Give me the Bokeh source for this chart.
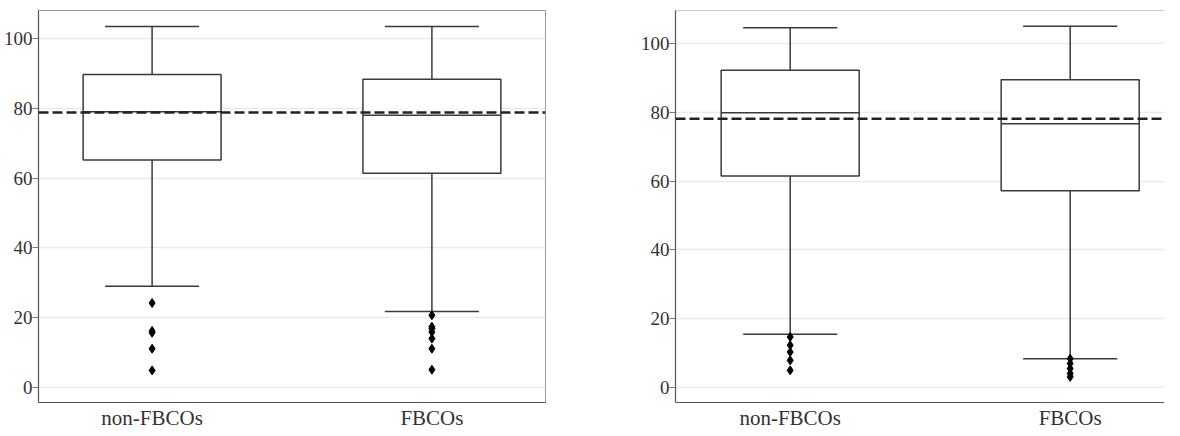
from bokeh.plotting import figure
from bokeh.models import FixedTicker, Span
from bokeh.layouts import row
from bokeh.embed import file_html
from bokeh.resources import INLINE

categories = ["non-FBCOs", "FBCOs"]
y_ticks = [0, 20, 40, 60, 80, 100]

# Left panel
left_hi = [103.4, 103.4]
left_q3 = [89.7, 88.3]
left_median = [79.0, 78.0]
left_q1 = [65.2, 61.4]
left_lo = [29.0, 21.8]
left_out_non = [24.2, 16.2, 15.7, 11.1, 4.9]
left_out_fb = [20.7, 17.4, 16.9, 15.9, 14.0, 11.1, 5.1]
left_ref = 78.8

# Right panel
right_hi = [104.6, 105.0]
right_q3 = [92.2, 89.5]
right_median = [79.9, 76.7]
right_q1 = [61.5, 57.2]
right_lo = [15.5, 8.4]
right_out_non = [14.7, 12.3, 10.3, 7.9, 5.0]
right_out_fb = [8.4, 7.0, 5.5, 4.1, 3.1]
right_ref = 78.1

FONT = "Liberation Serif, Times New Roman, serif"
TXT = "#333333"
LINE = "#3a3a3a"
BOX_W = 0.493
CAP_W = 0.336


def make_panel(width, height, xr, yr, hi, q3, med, q1, lo, outs, ref,
               border_left, border_right, outline):
    p = figure(width=width, height=height, x_range=xr, y_range=yr,
               output_backend="svg", toolbar_location=None,
               min_border_left=border_left, min_border_right=border_right,
               min_border_top=10, min_border_bottom=0)
    p.background_fill_color = "white"
    p.border_fill_color = "white"
    if outline:
        p.outline_line_color = "#9a9a9a"
        p.outline_line_width = 1
    else:
        p.outline_line_color = None
        p.add_layout(Span(location=yr[1], dimension="width",
                          line_color="#9a9a9a", line_width=1))
    xs = [i + 1 for i in range(len(categories))]

    # whiskers
    p.segment(x0=xs, y0=q3, x1=xs, y1=hi, line_color=LINE, line_width=1.5)
    p.segment(x0=xs, y0=q1, x1=xs, y1=lo, line_color=LINE, line_width=1.5)
    p.segment(x0=[x - CAP_W / 2 for x in xs], y0=hi,
              x1=[x + CAP_W / 2 for x in xs], y1=hi,
              line_color=LINE, line_width=1.5)
    p.segment(x0=[x - CAP_W / 2 for x in xs], y0=lo,
              x1=[x + CAP_W / 2 for x in xs], y1=lo,
              line_color=LINE, line_width=1.5)
    # boxes
    p.vbar(x=xs, width=BOX_W, top=q3, bottom=q1, fill_color="white",
           line_color=LINE, line_width=1.5)
    p.segment(x0=[x - BOX_W / 2 for x in xs], y0=med,
              x1=[x + BOX_W / 2 for x in xs], y1=med,
              line_color=LINE, line_width=1.5)
    # outliers
    for x, vals in zip(xs, outs):
        p.scatter(x=[x] * len(vals), y=vals, marker="diamond", size=9,
                  fill_color="black", line_color="black")

    p.add_layout(Span(location=ref, dimension="width", line_color="#222222",
                      line_dash="10 4", line_width=2.5))

    p.xgrid.grid_line_color = None
    p.ygrid.grid_line_color = "#ebebeb"
    p.ygrid.grid_line_width = 1.5
    p.ygrid.ticker = FixedTicker(ticks=y_ticks)

    p.yaxis.ticker = FixedTicker(ticks=y_ticks)
    p.yaxis.axis_line_color = "#555555"
    p.yaxis.axis_line_width = 1.2
    p.yaxis.major_tick_line_color = "#777777"
    p.yaxis.major_tick_out = 6
    p.yaxis.major_tick_in = 0
    p.yaxis.minor_tick_line_color = None
    p.yaxis.major_label_standoff = 0
    p.yaxis.major_label_text_font = FONT
    p.yaxis.major_label_text_font_size = "19px"
    p.yaxis.major_label_text_color = TXT

    p.xaxis.ticker = FixedTicker(ticks=xs)
    p.xaxis.major_label_overrides = {x: c for x, c in zip(xs, categories)}
    p.xaxis.axis_line_color = "#555555"
    p.xaxis.axis_line_width = 1.2
    p.xaxis.major_tick_line_color = None
    p.xaxis.major_tick_out = 0
    p.xaxis.major_tick_in = 0
    p.xaxis.minor_tick_line_color = None
    p.xaxis.major_label_standoff = 3
    p.xaxis.major_label_text_font = FONT
    p.xaxis.major_label_text_font_size = "21px"
    p.xaxis.major_label_text_color = TXT
    return p


left = make_panel(597, 432, (0.594, 2.406), (-4.3, 108.0),
                  left_hi, left_q3, left_median, left_q1, left_lo,
                  [left_out_non, left_out_fb], left_ref, 37, 52, True)
right = make_panel(567, 432, (0.5904, 0.5904 + 489 / 280), (-4.35, 109.6),
                   right_hi, right_q3, right_median, right_q1, right_lo,
                   [right_out_non, right_out_fb], right_ref, 78, 0, False)

layout = row(left, right)
open("out.html", "w").write(file_html(layout, INLINE))
